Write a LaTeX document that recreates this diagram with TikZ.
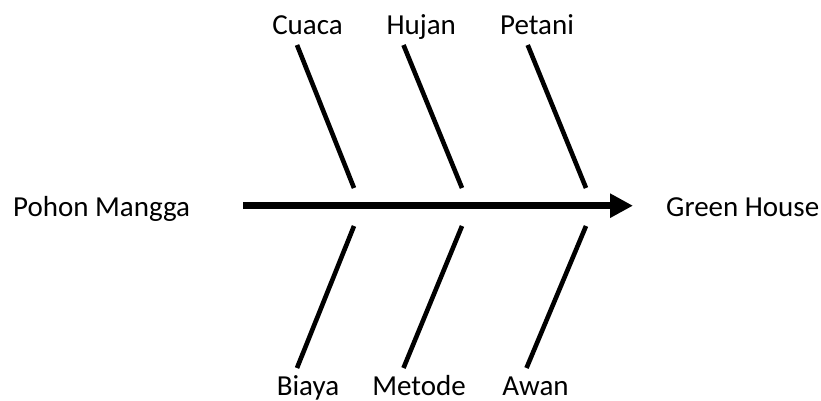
\documentclass[tikz,border=0pt]{standalone}
\usepackage{fontspec}
\setmainfont{Carlito}
\usetikzlibrary{arrows.meta}
\begin{document}
\begin{tikzpicture}[x=1pt,y=-1pt,
  lbl/.style={font=\fontsize{29}{34}\selectfont, inner sep=0pt},
  bone/.style={line width=4.6pt},
  spine/.style={line width=7.5pt, -{Triangle[length=23pt,width=23pt]}}]
\useasboundingbox (0,0) rectangle (821,401);
% labels
\node[lbl, anchor=base west] (pm) at (13,216) {Pohon Mangga};
\node[lbl, anchor=base west] (gh) at (666,216) {Green House};
\node[lbl, anchor=base] (cuaca) at (307.5,35) {Cuaca};
\node[lbl, anchor=base] (hujan) at (421.3,35) {Hujan};
\node[lbl, anchor=base] (petani) at (537,35) {Petani};
\node[lbl, anchor=base] (biaya) at (308,395) {Biaya};
\node[lbl, anchor=base] (metode) at (419,395) {Metode};
\node[lbl, anchor=base] (awan) at (535.5,395) {Awan};
% spine
\coordinate (s0) at (243,205.7);
\coordinate (s1) at (633,205.7);
\draw[spine] (s0) -- (s1);
% upper bones
\coordinate (c1) at (297,45);  \coordinate (c2) at (354,188);
\coordinate (h1) at (403.5,45); \coordinate (h2) at (462,188);
\coordinate (p1) at (527.7,45); \coordinate (p2) at (586,188);
\draw[bone] (c1) -- (c2);
\draw[bone] (h1) -- (h2);
\draw[bone] (p1) -- (p2);
% lower bones
\coordinate (b1) at (354,226);  \coordinate (b2) at (297,368);
\coordinate (m1) at (462,226);  \coordinate (m2) at (403.5,368);
\coordinate (a1) at (586,226);  \coordinate (a2) at (526.5,368);
\draw[bone] (b1) -- (b2);
\draw[bone] (m1) -- (m2);
\draw[bone] (a1) -- (a2);
\end{tikzpicture}
\end{document}
